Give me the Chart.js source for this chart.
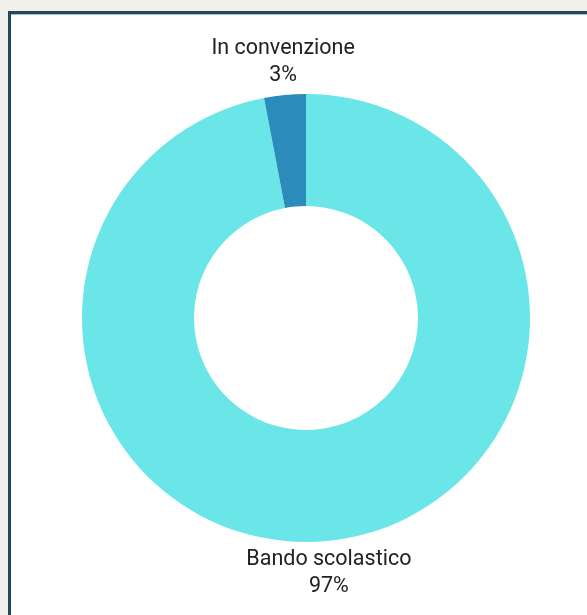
<!DOCTYPE html>
<html>
<head>
<meta charset="utf-8">
<script src="https://cdn.jsdelivr.net/npm/chart.js@4/dist/chart.umd.min.js"></script>
<style>
    html, body { margin: 0; padding: 0; background: #f1f0ec; }
    body { width: 587px; height: 615px; overflow: hidden; position: relative; }
    .pannello {
        position: absolute; left: 8px; top: 11px; right: -10px; bottom: -10px;
        background: #ffffff;
        border-left: 3px solid #1f4a5c;
        border-top: 3px solid #1f4a5c;
        box-shadow: inset 0 1px 0 #a9bccb;
    }
    #grafico { position: absolute; left: 0; top: 0; }
</style>
</head>
<body>
<div class="pannello">
    <canvas id="grafico" width="576" height="601"></canvas>
</div>
<script>
// Distribuzione per tipo di accesso
const categorie = ['Bando scolastico', 'In convenzione'];
const percentuali = [97, 3];
const colori = ['#6ae6e8', '#2b8bba'];

// Etichette esterne: nome + percentuale sull'angolo medio di ogni settore
const etichetteEsterne = {
    id: 'etichetteEsterne',
    afterDatasetsDraw(chart) {
        const { ctx } = chart;
        const meta = chart.getDatasetMeta(0);
        ctx.save();
        ctx.font = '21.5px Roboto, sans-serif';
        ctx.fillStyle = '#222222';
        ctx.textAlign = 'center';
        ctx.textBaseline = 'middle';
        const interlinea = 27;
        meta.data.forEach((arc, i) => {
            const p = arc.getProps(['x', 'y', 'startAngle', 'endAngle', 'outerRadius'], true);
            const ang = (p.startAngle + p.endAngle) / 2;
            const r = p.outerRadius + 19;
            const x = p.x + Math.cos(ang) * r;
            let y = p.y + Math.sin(ang) * r;
            // blocco di due righe: sopra il centro si allinea in basso, sotto in alto
            const y0 = Math.sin(ang) < 0 ? y - interlinea : y;
            ctx.fillText(categorie[i], x, y0);
            ctx.fillText(percentuali[i] + '%', x, y0 + interlinea);
        });
        ctx.restore();
    }
};

new Chart(document.getElementById('grafico'), {
    type: 'doughnut',
    data: {
        labels: categorie,
        datasets: [{
            data: percentuali,
            backgroundColor: colori,
            borderWidth: 0
        }]
    },
    options: {
        responsive: false,
        animation: false,
        cutout: '50%',
        layout: { padding: { left: 64, right: 50, top: 80, bottom: 73 } },
        plugins: {
            legend: { display: false },
            tooltip: { enabled: false }
        }
    },
    plugins: [etichetteEsterne]
});
</script>
</body>
</html>
